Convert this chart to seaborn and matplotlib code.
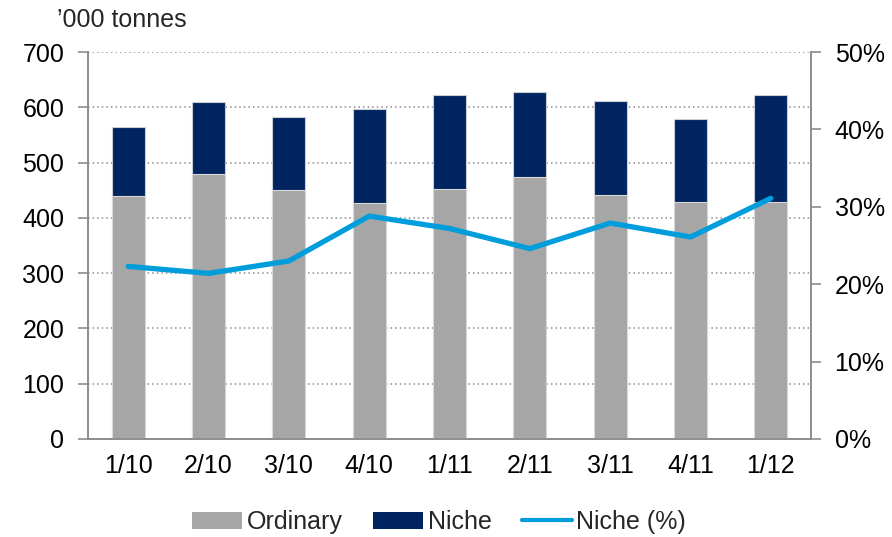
import numpy as np
import pandas as pd
import matplotlib
matplotlib.use("Agg")
import matplotlib.pyplot as plt
from matplotlib.patches import Patch
from matplotlib.lines import Line2D
from matplotlib.ticker import FuncFormatter
import seaborn as sns

quarters = ["1/10", "2/10", "3/10", "4/10", "1/11", "2/11", "3/11", "4/11", "1/12"]
ordinary = [439, 480, 450, 426, 453, 474, 441, 429, 429]
niche = [126, 130, 133, 171, 170, 154, 171, 150, 193]
niche_pct = [22.3, 21.4, 23.0, 28.8, 27.2, 24.6, 27.9, 26.1, 31.1]

GREY = "#A6A6A6"
NAVY = "#002460"
BLUE = "#009DDC"
AXIS = "#8C8C8C"
FS = 18

sns.set_theme(style="white")
plt.rcParams["font.family"] = ["Liberation Sans", "DejaVu Sans"]

df = pd.DataFrame({
    "quarter": quarters,
    "ordinary": ordinary,
    "total": np.array(ordinary) + np.array(niche),
    "pct": niche_pct,
})

fig = plt.figure(figsize=(8.92, 5.37), dpi=100)
ax = fig.add_axes([88 / 892, 1 - 439 / 537, (811 - 88) / 892, (439 - 52) / 537])

sns.barplot(data=df, x="quarter", y="total", color=NAVY, saturation=1,
            width=0.41, ax=ax, edgecolor="#C9CDD6", linewidth=0.8, zorder=2)
sns.barplot(data=df, x="quarter", y="ordinary", color=GREY, saturation=1,
            width=0.41, ax=ax, edgecolor="#D9D9D9", linewidth=0.8, zorder=3)

ax.set_ylim(0, 700)
ax.set_yticks(range(0, 701, 100))
ax.set_xlim(-0.5, len(quarters) - 0.5)
ax.set_xlabel("")
ax.set_ylabel("")
ax.yaxis.grid(True, color="#8C8C8C", linestyle=(0, (1, 2)), linewidth=1.1, zorder=0)
ax.set_axisbelow(True)

ax2 = ax.twinx()
sns.lineplot(x=np.arange(len(quarters)), y=df["pct"], color=BLUE, linewidth=3.8,
             ax=ax2, zorder=5, solid_capstyle="round")
ax2.set_ylim(0, 50)
ax2.set_yticks(range(0, 51, 10))
ax2.yaxis.set_major_formatter(FuncFormatter(lambda v, p: f"{int(v)}%"))
ax2.set_ylabel("")

for a in (ax, ax2):
    for s in a.spines.values():
        s.set_color(AXIS)
        s.set_linewidth(1.2)
    a.spines["top"].set_visible(False)

ax.tick_params(axis="y", direction="out", length=7, width=1.2, color=AXIS,
               labelsize=FS, pad=10, left=True, labelcolor="black")
ax.tick_params(axis="x", length=0, labelsize=FS, pad=11, labelcolor="black")
ax2.tick_params(axis="y", direction="out", length=7, width=1.2, color=AXIS,
                labelsize=FS, pad=10, right=True, labelcolor="black")

fig.text(122 / 892, 1 - 20 / 537, "\u2019000 tonnes", fontsize=FS, ha="center", va="center")

handles = [
    Patch(facecolor=GREY, edgecolor="none", label="Ordinary"),
    Patch(facecolor=NAVY, edgecolor="none", label="Niche"),
    Line2D([0], [0], color=BLUE, linewidth=3.0, label="Niche (%)"),
]
fig.legend(handles=handles, loc="center", bbox_to_anchor=(439 / 892, 1 - 522 / 537),
           ncol=3, frameon=False, fontsize=FS, handlelength=2.0, handleheight=0.65,
           handletextpad=0.2, columnspacing=1.2, borderpad=0.2)

fig.savefig("out.png", dpi=100)
